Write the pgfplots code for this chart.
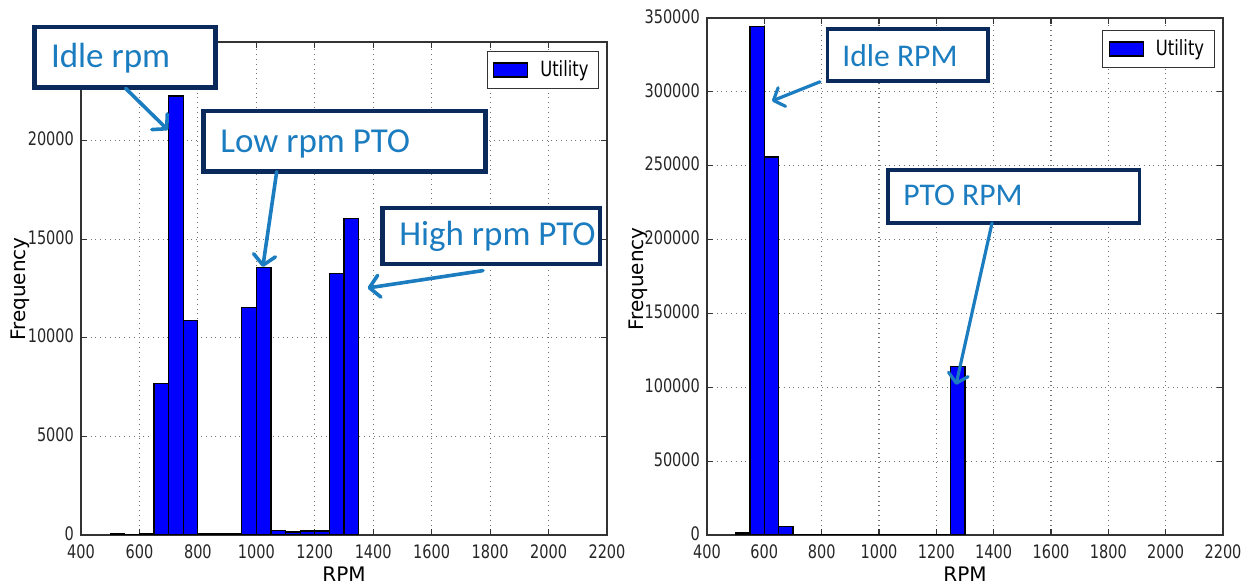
\documentclass[border=0pt]{standalone}
\usepackage{pgfplots}
\pgfplotsset{compat=1.18}
\usepackage{fontspec}
\setmainfont{DejaVu Sans}
\newfontfamily\mpl[FakeStretch=0.78]{DejaVu Sans}
\newfontfamily\ylab{DejaVu Sans}
\newfontfamily\annfont{Carlito}
\usetikzlibrary{arrows.meta}
\definecolor{navy}{HTML}{0B2A5C}
\definecolor{annblue}{HTML}{1B7CC0}

\pgfplotstableread{
x y
500 50
550 0
600 50
650 7665
700 22260
750 10885
800 90
850 90
900 90
950 11525
1000 13560
1050 220
1100 150
1150 200
1200 200
1250 13275
1300 16045
1350 16045
}\lefttable

\pgfplotstableread{
x y
500 1300
550 344400
600 255900
650 6000
700 500
750 500
800 0
850 0
900 0
950 0
1000 0
1050 0
1100 0
1150 0
1200 500
1250 114000
1300 114000
}\righttable

\pgfplotsset{
  mplstyle/.style={
    scale only axis,
    xmin=400, xmax=2200, ymin=0,
    xtick={400,600,...,2200},
    grid=major,
    grid style={dotted, black!55, line width=0.6pt},
    axis line style={black!80, line width=0.7pt},
    tick style={black!80, line width=0.6pt},
    tick align=inside, major tick length=3pt,
    tick label style={font=\mpl\fontsize{9.3}{10}\selectfont, black!85},
    xticklabel style={yshift=-1.2pt},
    yticklabel style={yshift=0.8pt},
    /pgf/number format/assume math mode=true,
    /pgf/number format/fixed,
    /pgf/number format/precision=0,
    /pgf/number format/1000 sep={},
    scaled y ticks=false, scaled x ticks=false,
    xlabel={RPM}, ylabel={Frequency},
    xlabel style={font=\mpl\fontsize{8.5}{9}\selectfont, black!85},
    ylabel style={font=\ylab\fontsize{8.3}{9}\selectfont, black!85},
    legend style={draw=black!80, line width=0.6pt, font=\mpl\fontsize{10.5}{12}\selectfont, inner xsep=3pt, inner ysep=2.5pt, anchor=north east},
    legend cell align=left,
    legend image code/.code={\draw[fill=blue,draw=black,line width=0.6pt] (0pt,-3.5pt) rectangle (17pt,3.5pt); \path (21pt,0pt);},
  },
}

\begin{document}
\begin{tikzpicture}
\path[use as bounding box] (0,0) rectangle (623.5pt,291.5pt);

% Left chart
\begin{axis}[mplstyle,
  at={(40.5pt,24pt)}, anchor=south west,
  width=263pt, height=246.5pt,
  ymax=25000, ytick={0,5000,...,25000},
  yticklabels={0,5000,10000,15000,20000,{}},
  every axis x label/.style={at={(axis description cs:0.5,-0.079)}, anchor=center},
  every axis y label/.style={at={(axis description cs:-0.116,0.499)}, anchor=center, rotate=90},
  legend style={at={(0.985,0.982)}},
]
\addplot[ybar interval, fill=blue, draw=black, line width=0.6pt] table[x=x,y=y] {\lefttable};
\addlegendentry{Utility}
\end{axis}

% Right chart
\begin{axis}[mplstyle,
  at={(353.5pt,24pt)}, anchor=south west,
  width=258pt, height=258.5pt,
  ymax=350000, ytick={0,50000,100000,150000,200000,250000,300000,350000},
  yticklabels={0,50000,100000,150000,200000,250000,300000,350000},
  every axis x label/.style={at={(axis description cs:0.5,-0.075)}, anchor=center},
  every axis y label/.style={at={(axis description cs:-0.134,0.495)}, anchor=center, rotate=90},
  legend style={at={(0.984,0.977)}},
]
\addplot[ybar interval, fill=blue, draw=black, line width=0.6pt] table[x=x,y=y] {\righttable};
\addlegendentry{Utility}
\end{axis}

% Annotations (left)
\draw[navy, line width=2.2pt, fill=white] ({34.4*0.5pt},{(583-87.4)*0.5pt}) rectangle ({215.4*0.5pt},{(583-26.8)*0.5pt});
\node[anchor=base west, inner sep=0pt, text=annblue, font=\annfont\fontsize{17.5}{20}\selectfont] at ({50.6*0.5pt},{(583-68)*0.5pt}) {Idle rpm};
\draw[annblue, line width=1.8pt, line cap=round, -{Straight Barb[length=5pt,width=11pt,round]}] ({125.7*0.5pt},{(583-88.5)*0.5pt}) -- ({168*0.5pt},{(583-130)*0.5pt});

\draw[navy, line width=2.2pt, fill=white] ({203.6*0.5pt},{(583-171.7)*0.5pt}) rectangle ({485.4*0.5pt},{(583-110.8)*0.5pt});
\node[anchor=base west, inner sep=0pt, text=annblue, font=\annfont\fontsize{17.5}{20}\selectfont] at ({220*0.5pt},{(583-152.4)*0.5pt}) {Low rpm PTO};
\draw[annblue, line width=1.8pt, line cap=round, -{Straight Barb[length=5pt,width=11pt,round]}] ({276.7*0.5pt},{(583-171.7)*0.5pt}) -- ({262.8*0.5pt},{(583-267)*0.5pt});

\draw[navy, line width=2.2pt, fill=white] ({382.6*0.5pt},{(583-264)*0.5pt}) rectangle ({600*0.5pt},{(583-208.2)*0.5pt});
\node[anchor=base west, inner sep=0pt, text=annblue, font=\annfont\fontsize{17.5}{20}\selectfont] at ({399*0.5pt},{(583-245.4)*0.5pt}) {High rpm PTO};
\draw[annblue, line width=1.8pt, line cap=round, -{Straight Barb[length=5pt,width=11pt,round]}] ({483*0.5pt},{(583-270.6)*0.5pt}) -- ({367.6*0.5pt},{(583-288)*0.5pt});

% Annotations (right)
\draw[navy, line width=1.7pt, fill=white] ({827.2*0.5pt},{(583-81)*0.5pt}) rectangle ({988*0.5pt},{(583-29)*0.5pt});
\node[anchor=base west, inner sep=0pt, text=annblue, font=\annfont\fontsize{15.8}{18}\selectfont] at ({842*0.5pt},{(583-66.9)*0.5pt}) {Idle RPM};
\draw[annblue, line width=1.6pt, line cap=round, -{Straight Barb[length=4.5pt,width=10pt,round]}] ({820*0.5pt},{(583-81.8)*0.5pt}) -- ({772*0.5pt},{(583-101)*0.5pt});

\draw[navy, line width=1.7pt, fill=white] ({888*0.5pt},{(583-223)*0.5pt}) rectangle ({1139.2*0.5pt},{(583-170)*0.5pt});
\node[anchor=base west, inner sep=0pt, text=annblue, font=\annfont\fontsize{15.8}{18}\selectfont] at ({903*0.5pt},{(583-205.6)*0.5pt}) {PTO RPM};
\draw[annblue, line width=1.6pt, line cap=round, -{Straight Barb[length=4.5pt,width=10pt,round]}] ({992*0.5pt},{(583-223)*0.5pt}) -- ({956*0.5pt},{(583-384.8)*0.5pt});
\end{tikzpicture}
\end{document}
